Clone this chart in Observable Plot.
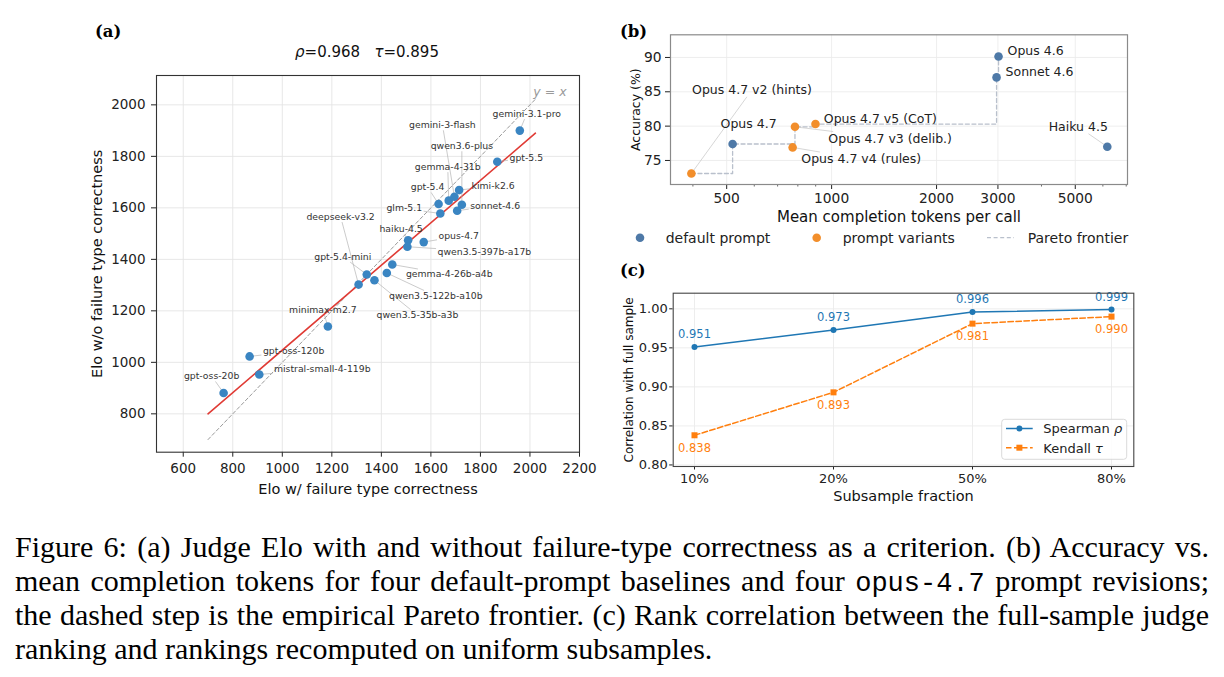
<!DOCTYPE html>
<html><head><meta charset="utf-8">
<script src="https://cdn.jsdelivr.net/npm/d3@7"></script>
<script src="https://cdn.jsdelivr.net/npm/@observablehq/plot@0.6"></script>
<style>
body{margin:0;background:#fff}
#fig{position:relative;width:1224px;height:677px;overflow:hidden;background:#fff;font-family:"DejaVu Sans"}
.abs{position:absolute}
</style></head><body>
<div id="fig">
  <div id="pa" class="abs" style="left:0;top:0;width:600px;height:520px"></div>
  <div id="pb" class="abs" style="left:600px;top:0;width:624px;height:230px"></div>
  <div id="pc" class="abs" style="left:600px;top:255px;width:624px;height:260px"></div>
  <svg id="ov" class="abs" style="left:0;top:0;pointer-events:none" width="1224" height="520"></svg>
  <svg id="cap" class="abs" style="left:0;top:520px" width="1224" height="157"></svg>
</div>
<script>
// ---------------- DATA ----------------
// (a) Judge Elo
const modelsA = ["gemini-3.1-pro","gpt-5.5","kimi-k2.6","gemini-3-flash","gemma-4-31b","gpt-5.4","qwen3.6-plus","sonnet-4.6","glm-5.1","haiku-4.5","qwen3.5-397b-a17b","opus-4.7","gemma-4-26b-a4b","qwen3.5-122b-a10b","gpt-5.4-mini","qwen3.5-35b-a3b","deepseek-v3.2","minimax-m2.7","gpt-oss-120b","mistral-small-4-119b","gpt-oss-20b"];
const eloWith    = [1959,1868,1714,1695,1672,1631,1725,1706,1638,1508,1505,1571,1444,1422,1341,1372,1308,1184,868,907,763];
const eloWithout = [1900,1779,1669,1643,1628,1615,1612,1589,1578,1474,1449,1467,1380,1347,1341,1319,1302,1139,1023,953,881];
const fitX = [700, 2022];
const fitY = [800, 1890];
const diagX = [700, 2020];
const diagY = [700, 2020];
const xTicksA = [600,800,1000,1200,1400,1600,1800,2000,2200];
const yTicksA = [800,1000,1200,1400,1600,1800,2000];
const titleA = [["ρ", true], ["=0.968   ", false], ["τ", true], ["=0.895", false]];
const xLabelA = "Elo w/ failure type correctness";
const yLabelA = "Elo w/o failure type correctness";

// (b) accuracy vs tokens
const modelsB = ["Opus 4.6","Sonnet 4.6","Haiku 4.5","Opus 4.7","Opus 4.7 v2 (hints)","Opus 4.7 v3 (delib.)","Opus 4.7 v4 (rules)","Opus 4.7 v5 (CoT)"];
const tokensB = [3012, 2973, 6178, 520, 396, 785, 773, 899];
const accB    = [90.15, 87.1, 77.0, 77.4, 73.1, 79.9, 76.9, 80.3];
const groupB  = ["default prompt","default prompt","default prompt","default prompt","prompt variants","prompt variants","prompt variants","prompt variants"];
const paretoB = ["Opus 4.7 v2 (hints)","Opus 4.7","Opus 4.7 v3 (delib.)","Opus 4.7 v5 (CoT)","Sonnet 4.6","Opus 4.6"];
const xTicksB = [500,1000,2000,3000,5000];
const xMinorB = [400,600,700,800,900,4000,6000,7000];
const yTicksB = [75,80,85,90];
const legendB = ["default prompt","prompt variants","Pareto frontier"];

// (c) subsample rank correlation
const fractions = ["10%","20%","50%","80%"];
const spearman  = [0.951, 0.973, 0.996, 0.999];
const kendall   = [0.838, 0.893, 0.981, 0.990];
const yTicksC   = [0.80, 0.85, 0.90, 0.95, 1.00];
const legendC   = [["Spearman ", "ρ"], ["Kendall ", "τ"]];

// ---------------- LAYOUT (pixel offsets of annotations) ----------------
const labelOffsetA = [[7,-17],[29,-4],[34,-4],[-12,-72],[-1,-34],[-11,-17],[0,-59],[38,-5],[-36,-5],[-7,-11],[77,5],[35,-6],[57,10],[49,23],[-24,-18],[43,35],[-18,-68],[-5,-17],[44,-5],[63,-5],[-12,-17]];
const labelLayoutB = {
  "Opus 4.6": [9,-5,"start",false],
  "Sonnet 4.6": [9,-5,"start",false],
  "Haiku 4.5": [-29,-20,"middle",true],
  "Opus 4.7": [16,-20,"middle",false],
  "Opus 4.7 v2 (hints)": [60.6,-83.7,"middle",true],
  "Opus 4.7 v3 (delib.)": [33.4,11.7,"start",true],
  "Opus 4.7 v4 (rules)": [8.7,11.6,"start",true],
  "Opus 4.7 v5 (CoT)": [8.3,-5.3,"start",false]
};

const BLUE_B = "#4e79a7", ORANGE_B = "#f28e2b";
const C_BLUE = "#1f77b4", C_ORANGE = "#ff7f0e";

const cv = document.createElement("canvas").getContext("2d");
function tw(s, size, fam="DejaVu Sans"){ cv.font = `${size}px "${fam}"`; return cv.measureText(s).width; }
function clip(cx, cy, hw, hh, px, py){
  const vx = px-cx, vy = py-cy;
  const t = Math.min(vx ? hw/Math.abs(vx) : Infinity, vy ? hh/Math.abs(vy) : Infinity);
  if (t >= 1) return null;
  return [cx+t*vx, cy+t*vy];
}

// ---------------- PANEL (a) ----------------
{
  const W=600, H=520, ml=156, mr=21, mt=75, mb=68.3;
  const dx = [492, 2200], dy = [651, 2114];
  const xs = d3.scaleLinear(dx, [ml, W-mr]);
  const ys = d3.scaleLinear(dy, [H-mb, mt]);
  const labs = [], leads = [];
  modelsA.forEach((m,i)=>{
    const px = xs(eloWith[i]), py = ys(eloWithout[i]);
    const [ox, oy] = labelOffsetA[i];
    const cx = px+ox, cy = py+oy;
    labs.push({x: xs.invert(cx), y: ys.invert(cy), t: m});
    const e = clip(cx, cy, tw(m, 9.3)/2+1.5, 5.5, px, py);
    if (e && Math.hypot(px-e[0], py-e[1]) > 6) leads.push({x1: xs.invert(e[0]), y1: ys.invert(e[1]), x2: eloWith[i], y2: eloWithout[i]});
  });
  const pts = modelsA.map((m,i)=>({m, x: eloWith[i], y: eloWithout[i]}));
  const plot = Plot.plot({
    width: W, height: H, marginLeft: ml, marginRight: mr, marginTop: mt, marginBottom: mb,
    style: {fontFamily: "DejaVu Sans", fontSize: "13.5px", color: "#222", background: "transparent"},
    x: {domain: dx, ticks: xTicksA, tickFormat: d=>String(d), tickSize: 5, tickPadding: 6, label: null},
    y: {domain: dy, ticks: yTicksA, tickFormat: d=>String(d), tickSize: 5, tickPadding: 6, label: null},
    marks: [
      Plot.ruleX(xTicksA, {stroke: "#e4e4e4", strokeWidth: 0.9}),
      Plot.ruleY(yTicksA, {stroke: "#e4e4e4", strokeWidth: 0.9}),
      Plot.line(diagX.map((v,i)=>({x: v, y: diagY[i]})), {x:"x", y:"y", stroke:"#9a9a9a", strokeWidth: 1, strokeDasharray: "3.5,2.5"}),
      Plot.line(fitX.map((v,i)=>({x: v, y: fitY[i]})), {x:"x", y:"y", stroke:"#e03b35", strokeWidth: 1.6}),
      Plot.link(leads, {x1:"x1", y1:"y1", x2:"x2", y2:"y2", stroke:"#b5b5b5", strokeWidth: 0.7}),
      Plot.dot(pts, {x:"x", y:"y", r: 4.3, fill: "#3a85c2", stroke: "none"}),
      Plot.text(labs, {x:"x", y:"y", text:"t", fontSize: 9.3, fill:"#333", textAnchor:"middle"}),
      Plot.text(["y = x"], {x: diagX[1], y: diagY[1], text: d=>d, dx: 15, dy: -8, fontSize: 12.5, fontStyle: "italic", fill: "#9a9a9a"}),
      Plot.text([xLabelA], {text: d=>d, frameAnchor: "bottom", dy: 37.5, fontSize: 14.5, textAnchor: "middle", lineAnchor: "middle", fill: "#111"}),
      Plot.text([yLabelA], {text: d=>d, frameAnchor: "left", dx: -58.7, rotate: -90, fontSize: 14.5, textAnchor: "middle", lineAnchor: "middle", fill: "#111"}),
      Plot.frame({stroke: "#333", strokeWidth: 1.1})
    ]
  });
  document.getElementById("pa").append(plot);
}

// ---------------- PANEL (b) ----------------
{
  const W=624, H=230, ml=70, mr=97, mt=34.3, mb=46;
  const dx = [345, 7060], dy = [71.5, 93.3];
  const xs = d3.scaleLog(dx, [ml, W-mr]);
  const ys = d3.scaleLinear(dy, [H-mb, mt]);
  const pts = modelsB.map((m,i)=>({m, x: tokensB[i], y: accB[i], g: groupB[i]}));
  const front = paretoB.map(n => pts.find(p => p.m === n)).sort((a,b)=>a.x-b.x);
  const labStart = [], labMid = [], leads = [];
  pts.forEach(p=>{
    const [ox, oy, anchor, lead] = labelLayoutB[p.m];
    const px = xs(p.x), py = ys(p.y);
    const ax = px+ox, ay = py+oy;
    const w = tw(p.m, 12.5);
    const row = {x: xs.invert(ax), y: ys.invert(ay), t: p.m};
    (anchor === "start" ? labStart : labMid).push(row);
    if (lead) {
      const cx = anchor === "start" ? ax + w/2 : ax;
      const e = clip(cx, ay, w/2+1.5, 7, px, py);
      if (e) leads.push({x1: xs.invert(e[0]), y1: ys.invert(e[1]), x2: p.x, y2: p.y});
    }
  });
  const yb = ys.invert(H-mb+2.5);
  const plot = Plot.plot({
    width: W, height: H, marginLeft: ml, marginRight: mr, marginTop: mt, marginBottom: mb,
    style: {fontFamily: "DejaVu Sans", fontSize: "13.8px", color: "#222", background: "transparent"},
    x: {type: "log", domain: dx, ticks: xTicksB, tickFormat: d=>String(d), tickSize: 5, tickPadding: 4, label: null},
    y: {domain: dy, ticks: yTicksB, tickFormat: d=>String(d), tickSize: 5, tickPadding: 4, label: null},
    marks: [
      Plot.ruleX(xTicksB, {stroke: "#ececec", strokeWidth: 0.9}),
      Plot.ruleY(yTicksB, {stroke: "#ececec", strokeWidth: 0.9}),
      Plot.ruleX(xMinorB, {y1: dy[0], y2: yb, stroke: "#444", strokeWidth: 0.8}),
      Plot.line(front, {x:"x", y:"y", curve: "step-after", stroke: "#b9c0cc", strokeWidth: 1.3, strokeDasharray: "4,2.6"}),
      Plot.link(leads, {x1:"x1", y1:"y1", x2:"x2", y2:"y2", stroke:"#c4c4c4", strokeWidth: 0.7}),
      Plot.dot(pts, {x:"x", y:"y", r: 4.3, fill: d => d.g === "default prompt" ? BLUE_B : ORANGE_B, stroke: "none"}),
      Plot.text(labStart, {x:"x", y:"y", text:"t", fontSize: 12.5, fill:"#222", textAnchor:"start"}),
      Plot.text(labMid, {x:"x", y:"y", text:"t", fontSize: 12.5, fill:"#222", textAnchor:"middle"}),
      Plot.text(["Mean completion tokens per call"], {text: d=>d, frameAnchor: "bottom", dy: 32.7, fontSize: 15, textAnchor: "middle", lineAnchor: "middle", fill: "#111"}),
      Plot.text(["Accuracy (%)"], {text: d=>d, frameAnchor: "left", dx: -35, rotate: -90, fontSize: 12.5, textAnchor: "middle", lineAnchor: "middle", fill: "#111"}),
      Plot.frame({stroke: "#8a8a8a", strokeWidth: 1.2})
    ]
  });
  document.getElementById("pb").append(plot);
}

// ---------------- PANEL (c) ----------------
{
  const W=624, H=260, ml=72.7, mr=90.7, mt=37.7, mb=49;
  const dy = [0.798, 1.020];
  const rows = fractions.map((f,i)=>({f, s: spearman[i], k: kendall[i]}));
  const plot = Plot.plot({
    width: W, height: H, marginLeft: ml, marginRight: mr, marginTop: mt, marginBottom: mb,
    style: {fontFamily: "DejaVu Sans", fontSize: "13px", color: "#222", background: "transparent"},
    x: {type: "point", domain: fractions, padding: 0.15, tickSize: 3.5, tickPadding: 4, label: null},
    y: {domain: dy, ticks: yTicksC, tickFormat: d3.format(".2f"), tickSize: 3.5, tickPadding: 2, label: null},
    marks: [
      Plot.ruleX(fractions, {stroke: "#ebebeb", strokeWidth: 0.9}),
      Plot.ruleY(yTicksC, {stroke: "#ebebeb", strokeWidth: 0.9}),
      Plot.line(rows, {x:"f", y:"s", stroke: C_BLUE, strokeWidth: 1.5}),
      Plot.dot(rows, {x:"f", y:"s", r: 3, fill: C_BLUE, stroke: "none"}),
      Plot.line(rows, {x:"f", y:"k", stroke: C_ORANGE, strokeWidth: 1.5, strokeDasharray: "5.5,2.5"}),
      Plot.dot(rows, {x:"f", y:"k", r: 3.4, symbol: "square", fill: C_ORANGE, stroke: "none"}),
      Plot.text(rows, {x:"f", y:"s", text: d=>d.s.toFixed(3), dy: -12.5, fontSize: 11.5, fill: C_BLUE}),
      Plot.text(rows, {x:"f", y:"k", text: d=>d.k.toFixed(3), dy: 13, fontSize: 11.5, fill: C_ORANGE}),
      Plot.text(["Subsample fraction"], {text: d=>d, frameAnchor: "bottom", dy: 29.7, fontSize: 14.5, textAnchor: "middle", lineAnchor: "middle", fill: "#111"}),
      Plot.text(["Correlation with full sample"], {text: d=>d, frameAnchor: "left", dx: -44.4, rotate: -90, fontSize: 12, textAnchor: "middle", lineAnchor: "middle", fill: "#111"}),
      Plot.frame({stroke: "#444", strokeWidth: 1.1})
    ]
  });
  document.getElementById("pc").append(plot);
}

// ---------------- OVERLAY: panel tags, title, legends ----------------
{
  const ov = d3.select("#ov");
  const tag = (t, x, y) => ov.append("text").attr("x", x).attr("y", y).attr("dominant-baseline","central")
     .attr("font-family","DejaVu Serif").attr("font-weight","bold").attr("font-size", 16.5).attr("fill","#000").text(t);
  tag("(a)", 95, 31.7); tag("(b)", 620, 31.7); tag("(c)", 620, 270);

  // title (a)
  const tt = ov.append("text").attr("x", 367).attr("y", 51.7).attr("text-anchor","middle").attr("dominant-baseline","central")
     .attr("font-family","DejaVu Sans").attr("font-size", 15).attr("fill","#111").style("white-space","pre");
  titleA.forEach(([s, it]) => { const sp = tt.append("tspan").text(s); if (it) sp.attr("font-style","italic"); });

  // legend (b)
  const ly = 237.7;
  ov.append("circle").attr("cx", 640).attr("cy", ly).attr("r", 4.3).attr("fill", BLUE_B);
  ov.append("circle").attr("cx", 816.7).attr("cy", ly).attr("r", 4.3).attr("fill", ORANGE_B);
  ov.append("line").attr("x1", 987).attr("x2", 1014).attr("y1", ly).attr("y2", ly).attr("stroke", "#b9c0cc").attr("stroke-width", 1.3).attr("stroke-dasharray", "4,2.6");
  [[665.7, legendB[0]], [842.7, legendB[1]], [1027.7, legendB[2]]].forEach(([x,t]) =>
    ov.append("text").attr("x", x).attr("y", ly).attr("dominant-baseline","central").attr("font-family","DejaVu Sans").attr("font-size", 14).attr("fill","#222").text(t));

  // legend (c)
  const g = ov.append("g").attr("transform", "translate(1001.7,419.3)");
  g.append("rect").attr("width", 125).attr("height", 40).attr("rx", 3).attr("fill", "#fff").attr("fill-opacity", 0.85).attr("stroke", "#d0d0d0").attr("stroke-width", 0.8);
  g.append("line").attr("x1", 4.3).attr("x2", 31).attr("y1", 9.2).attr("y2", 9.2).attr("stroke", C_BLUE).attr("stroke-width", 1.5);
  g.append("circle").attr("cx", 17.7).attr("cy", 9.2).attr("r", 3).attr("fill", C_BLUE);
  g.append("line").attr("x1", 4.3).attr("x2", 31).attr("y1", 28.4).attr("y2", 28.4).attr("stroke", C_ORANGE).attr("stroke-width", 1.5).attr("stroke-dasharray", "5.5,2.5");
  g.append("rect").attr("x", 14.7).attr("y", 25.4).attr("width", 6).attr("height", 6).attr("fill", C_ORANGE);
  [[9.2, legendC[0]], [28.4, legendC[1]]].forEach(([y,[a,b]]) => {
    const t = g.append("text").attr("x", 41.6).attr("y", y).attr("dominant-baseline","central").attr("font-family","DejaVu Sans").attr("font-size", 13).attr("fill","#222").style("white-space","pre");
    t.append("tspan").text(a); t.append("tspan").attr("font-style","italic").text(b);
  });
}

// ---------------- CAPTION ----------------
{
  const cap = d3.select("#cap");
  const FS = 30, L = 15, R = 1209;
  const lines = [
    [["Figure 6: (a) Judge Elo with and without failure-type correctness as a criterion. (b) Accuracy vs.", false]],
    [["mean completion tokens for four default-prompt baselines and four ", false], ["opus-4.7", true], [" prompt revisions;", false]],
    [["the dashed step is the empirical Pareto frontier. (c) Rank correlation between the full-sample judge", false]],
    [["ranking and rankings recomputed on uniform subsamples.", false]]
  ];
  lines.forEach((parts, i) => {
    const t = cap.append("text").attr("x", L).attr("y", 37 + i*34)
      .attr("font-family", "Liberation Serif").attr("font-size", FS).attr("fill", "#000")
      .style("white-space", "pre");
    parts.forEach(([s, mono]) => {
      const sp = t.append("tspan").text(s);
      if (mono) sp.attr("font-family", "Liberation Mono").attr("font-size", FS*0.9);
    });
    if (i < lines.length - 1) {
      const len = t.node().getComputedTextLength();
      const n = parts.map(p => p[0]).join("").split(" ").length - 1;
      t.style("word-spacing", ((R - L - len) / n) + "px");
    }
  });
}
</script>
</body></html>
